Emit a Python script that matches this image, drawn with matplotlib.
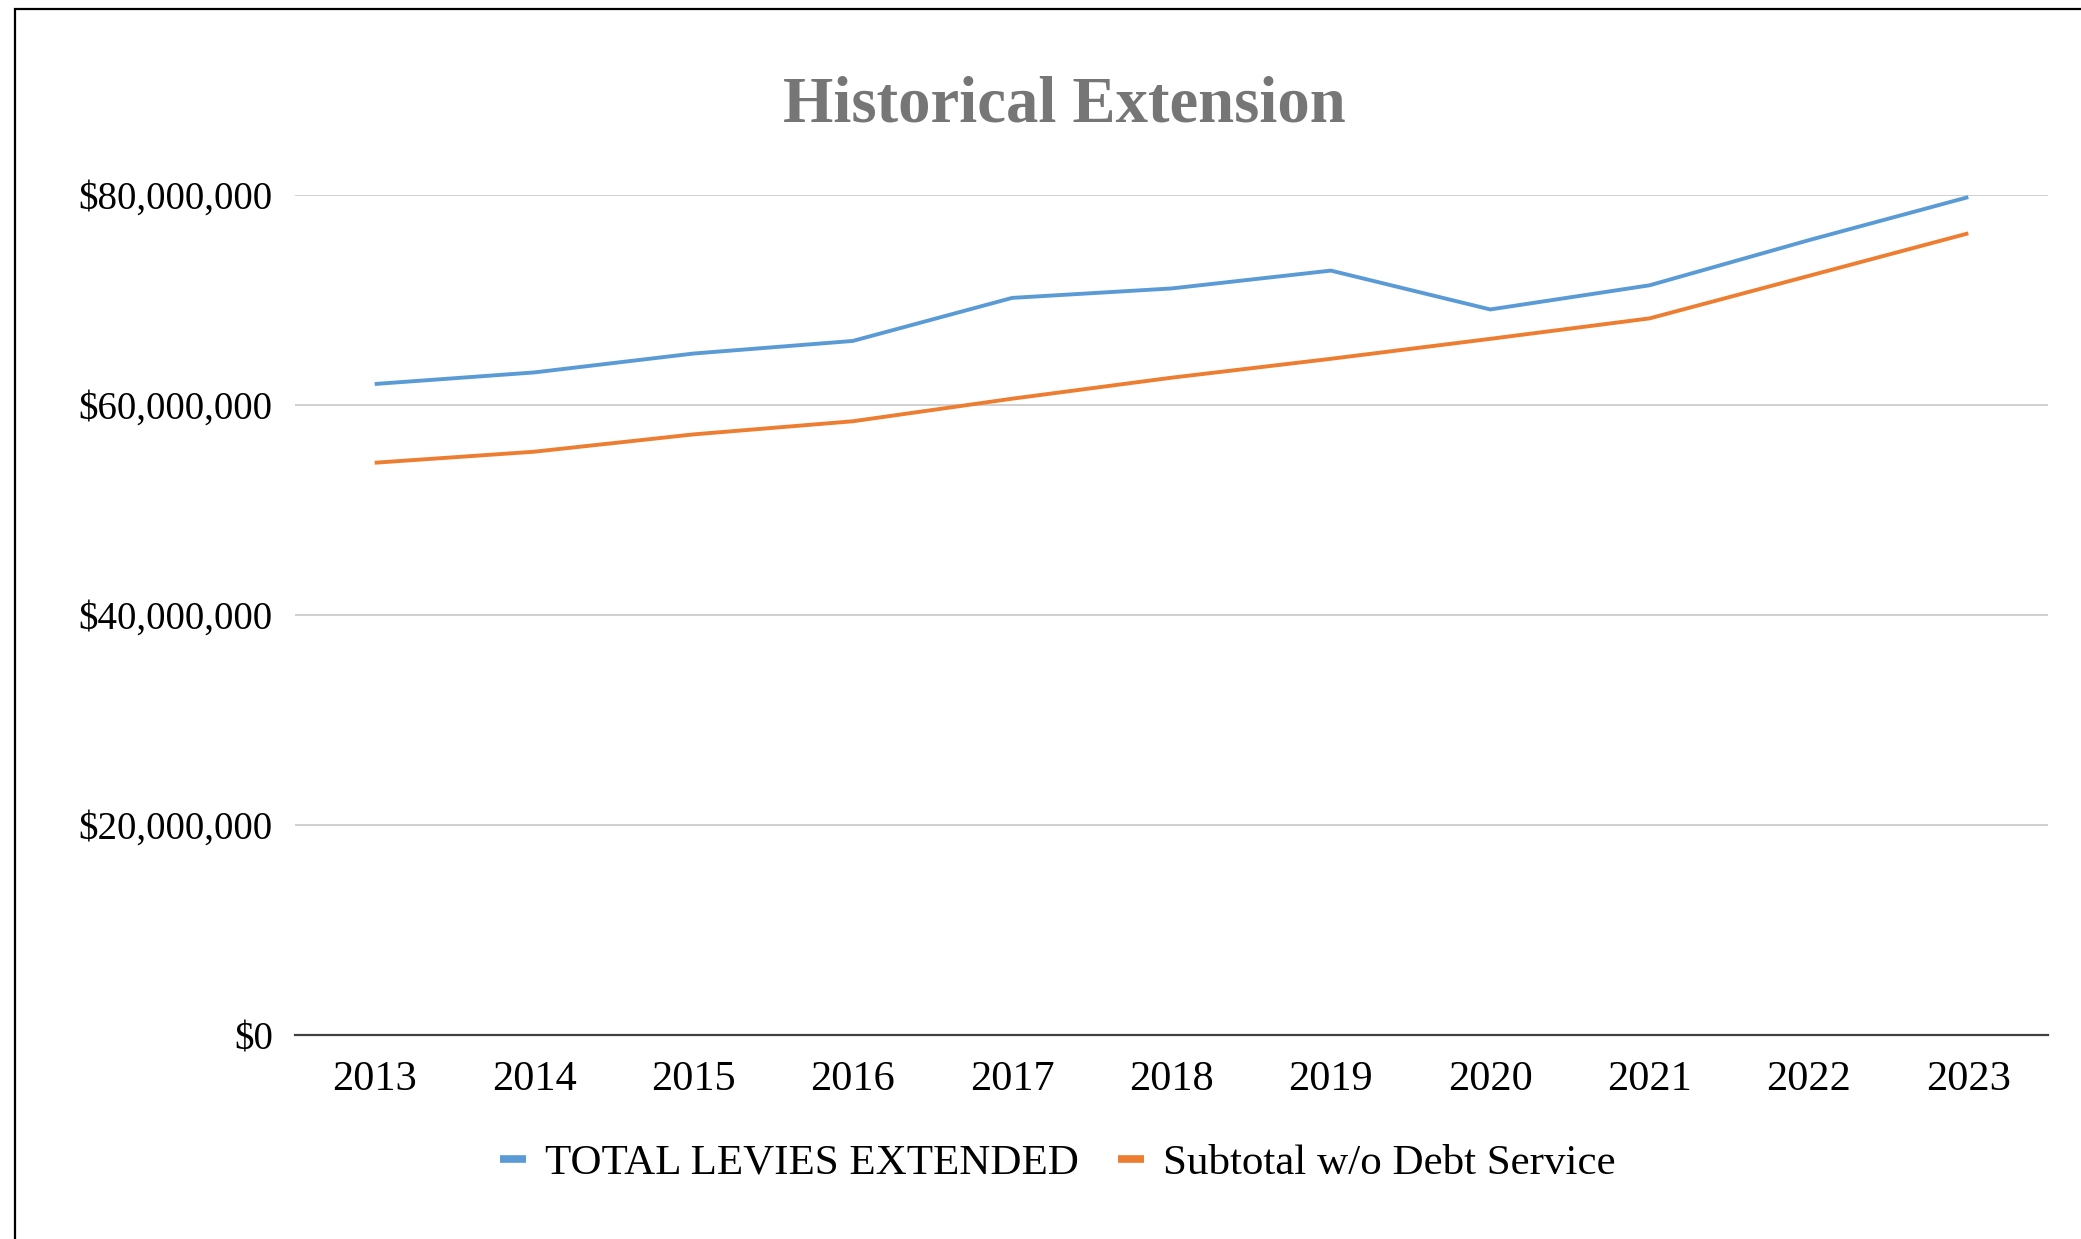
import matplotlib as mpl
mpl.use('Agg')
import matplotlib.pyplot as plt
from matplotlib.ticker import FuncFormatter
from matplotlib.lines import Line2D
from matplotlib.patches import Rectangle

years = ['2013', '2014', '2015', '2016', '2017', '2018', '2019', '2020', '2021', '2022', '2023']
total_levies = [62.0e6, 63.1e6, 64.9e6, 66.1e6, 70.2e6, 71.1e6, 72.8e6, 69.1e6, 71.4e6, 75.7e6, 79.8e6]
subtotal_no_debt = [54.5e6, 55.55e6, 57.2e6, 58.45e6, 60.6e6, 62.6e6, 64.4e6, 66.3e6, 68.25e6, 72.3e6, 76.35e6]
series_names = ['TOTAL LEVIES EXTENDED', 'Subtotal w/o Debt Service']

blue = '#5B9BD5'
orange = '#ED7D31'

plt.rcParams['font.family'] = ['Liberation Serif', 'DejaVu Serif']

fig = plt.figure(figsize=(20.81, 12.39), dpi=100)
ax = fig.add_axes([295/2081, 1 - 1035/1239, (2048 - 295)/2081, (1035 - 195)/1239])

x = list(range(len(years)))
ax.plot(x, total_levies, color=blue, lw=2.8, clip_on=False, solid_capstyle='butt')
ax.plot(x, subtotal_no_debt, color=orange, lw=2.8, clip_on=False, solid_capstyle='butt')

ax.set_xlim(-0.5, len(years) - 0.5)
ax.set_ylim(0, 80e6)
ax.set_yticks([0, 20e6, 40e6, 60e6, 80e6])
ax.yaxis.set_major_formatter(FuncFormatter(lambda v, p: '${:,.0f}'.format(v)))
ax.set_xticks(x)
ax.set_xticklabels(years)
ax.tick_params(axis='y', length=0, pad=16, labelsize=28)
ax.tick_params(axis='x', length=0, pad=18, labelsize=30.5)
ax.grid(axis='y', color='#D0D0D0', lw=1.4)
ax.set_axisbelow(True)
for s in ['top', 'right', 'left']:
    ax.spines[s].set_visible(False)
ax.spines['bottom'].set_color('#404040')
ax.spines['bottom'].set_linewidth(1.6)

fig.text(1064/2081, 1 - 106/1239, 'Historical Extension', ha='center', va='center',
         fontsize=46.5, fontweight='bold', color='#767676')

handles = [Line2D([], [], color=blue, lw=5.5, solid_capstyle='butt'),
           Line2D([], [], color=orange, lw=5.5, solid_capstyle='butt')]
fig.legend(handles, series_names, loc='center', bbox_to_anchor=(1058/2081, 1 - 1163/1239),
           ncol=2, frameon=False, fontsize=31, handlelength=0.6, handletextpad=0.45,
           columnspacing=0.9)

# chart frame (runs off the right and bottom edge in the original)
fig.patches.append(Rectangle((15/2081, -0.2), 1.2, 1.2 - 9/1239,
                             transform=fig.transFigure, fill=False, ec='black', lw=1.6))

plt.savefig('out.png')
